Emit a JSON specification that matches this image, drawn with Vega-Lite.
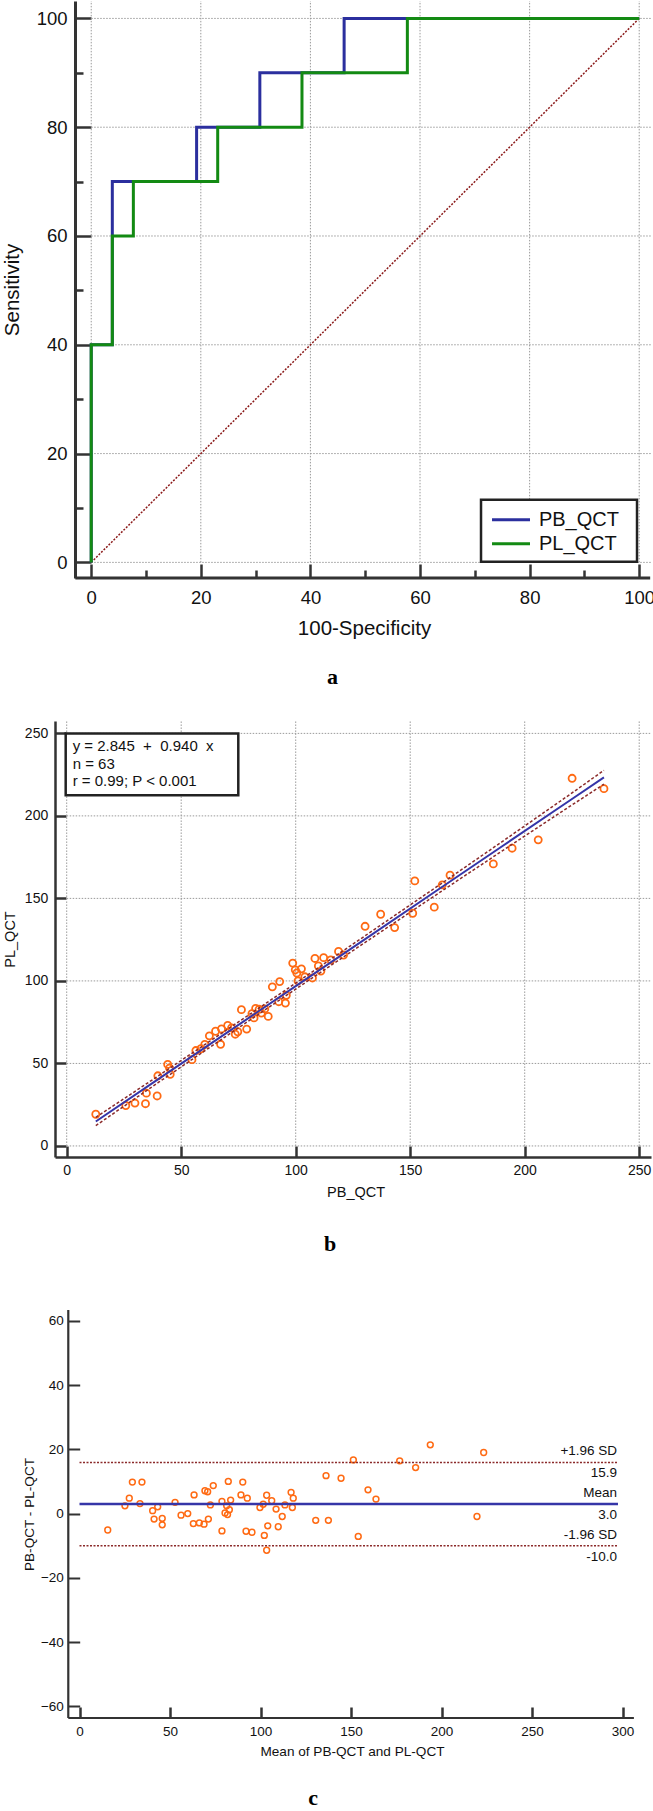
{
  "$schema": "https://vega.github.io/schema/vega-lite/v6.json",
  "padding": {"left": 2, "top": 0, "right": 0, "bottom": 0},
  "background": "white",
  "spacing": 143,
  "bounds": "flush",
  "config": {
    "view": {"stroke": null},
    "font": "Liberation Sans",
    "axis": {"grid": false, "labelFont": "Liberation Sans", "titleFont": "Liberation Sans", "labelColor": "#111", "titleColor": "#111", "titleFontWeight": "normal", "labelFlush": false, "labelOverlap": false}
  },
  "datasets": {
    "gridA": [{"v": 0}, {"v": 20}, {"v": 40}, {"v": 60}, {"v": 80}, {"v": 100}],
    "gridB": [{"v": 0}, {"v": 50}, {"v": 100}, {"v": 150}, {"v": 200}, {"v": 250}],
    "roc": [
      {"series": "PB_QCT", "ord": 1, "fpr": 0, "sens": 0},
      {"series": "PB_QCT", "ord": 2, "fpr": 0, "sens": 40},
      {"series": "PB_QCT", "ord": 3, "fpr": 3.85, "sens": 40},
      {"series": "PB_QCT", "ord": 4, "fpr": 3.85, "sens": 70},
      {"series": "PB_QCT", "ord": 5, "fpr": 19.23, "sens": 70},
      {"series": "PB_QCT", "ord": 6, "fpr": 19.23, "sens": 80},
      {"series": "PB_QCT", "ord": 7, "fpr": 30.77, "sens": 80},
      {"series": "PB_QCT", "ord": 8, "fpr": 30.77, "sens": 90},
      {"series": "PB_QCT", "ord": 9, "fpr": 46.15, "sens": 90},
      {"series": "PB_QCT", "ord": 10, "fpr": 46.15, "sens": 100},
      {"series": "PB_QCT", "ord": 11, "fpr": 100, "sens": 100},
      {"series": "PL_QCT", "ord": 1, "fpr": 0, "sens": 0},
      {"series": "PL_QCT", "ord": 2, "fpr": 0, "sens": 40},
      {"series": "PL_QCT", "ord": 3, "fpr": 3.85, "sens": 40},
      {"series": "PL_QCT", "ord": 4, "fpr": 3.85, "sens": 60},
      {"series": "PL_QCT", "ord": 5, "fpr": 7.69, "sens": 60},
      {"series": "PL_QCT", "ord": 6, "fpr": 7.69, "sens": 70},
      {"series": "PL_QCT", "ord": 7, "fpr": 23.08, "sens": 70},
      {"series": "PL_QCT", "ord": 8, "fpr": 23.08, "sens": 80},
      {"series": "PL_QCT", "ord": 9, "fpr": 38.46, "sens": 80},
      {"series": "PL_QCT", "ord": 10, "fpr": 38.46, "sens": 90},
      {"series": "PL_QCT", "ord": 11, "fpr": 57.69, "sens": 90},
      {"series": "PL_QCT", "ord": 12, "fpr": 57.69, "sens": 100},
      {"series": "PL_QCT", "ord": 13, "fpr": 100, "sens": 100}
    ],
    "scatter": [
      {"pb": 12.7, "pl": 19.2}, {"pb": 25.8, "pl": 24.5}, {"pb": 29.8, "pl": 26.0}, {"pb": 34.4, "pl": 25.6},
      {"pb": 34.8, "pl": 32.0}, {"pb": 39.5, "pl": 30.3}, {"pb": 39.8, "pl": 42.5}, {"pb": 44.1, "pl": 49.4},
      {"pb": 44.9, "pl": 47.2}, {"pb": 45.2, "pl": 43.4}, {"pb": 54.7, "pl": 52.3}, {"pb": 56.4, "pl": 57.8},
      {"pb": 58.6, "pl": 58.9}, {"pb": 60.3, "pl": 61.5}, {"pb": 62.3, "pl": 66.7}, {"pb": 65.0, "pl": 69.5},
      {"pb": 67.2, "pl": 61.6}, {"pb": 67.6, "pl": 70.9}, {"pb": 70.3, "pl": 73.0}, {"pb": 72.0, "pl": 71.5},
      {"pb": 73.6, "pl": 67.7}, {"pb": 74.7, "pl": 69.2}, {"pb": 76.3, "pl": 82.6}, {"pb": 78.6, "pl": 70.8},
      {"pb": 80.9, "pl": 80.1}, {"pb": 81.8, "pl": 77.6}, {"pb": 82.5, "pl": 83.3}, {"pb": 84.0, "pl": 82.8},
      {"pb": 85.0, "pl": 80.5}, {"pb": 86.5, "pl": 83.0}, {"pb": 88.0, "pl": 78.5}, {"pb": 89.8, "pl": 96.4},
      {"pb": 92.6, "pl": 87.4}, {"pb": 93.0, "pl": 99.6}, {"pb": 95.5, "pl": 86.6}, {"pb": 95.9, "pl": 91.3},
      {"pb": 98.7, "pl": 110.8}, {"pb": 99.8, "pl": 106.7}, {"pb": 100.5, "pl": 104.8}, {"pb": 101.0, "pl": 100.0},
      {"pb": 102.5, "pl": 107.3}, {"pb": 104.0, "pl": 102.5}, {"pb": 107.3, "pl": 101.8}, {"pb": 108.4, "pl": 113.6},
      {"pb": 109.9, "pl": 109.1}, {"pb": 111.0, "pl": 106.0}, {"pb": 112.2, "pl": 114.1}, {"pb": 115.3, "pl": 112.7},
      {"pb": 118.7, "pl": 117.9}, {"pb": 120.9, "pl": 115.7}, {"pb": 130.3, "pl": 133.1}, {"pb": 137.1, "pl": 140.4},
      {"pb": 143.2, "pl": 132.3}, {"pb": 151.1, "pl": 141.0}, {"pb": 152.0, "pl": 160.6}, {"pb": 160.5, "pl": 144.7},
      {"pb": 164.0, "pl": 158.2}, {"pb": 167.4, "pl": 164.1}, {"pb": 186.3, "pl": 170.9}, {"pb": 194.5, "pl": 180.4},
      {"pb": 205.9, "pl": 185.5}, {"pb": 220.7, "pl": 222.8}, {"pb": 234.6, "pl": 216.5}
    ],
    "fit": [
      {"pb": 12.7, "fit": 14.8, "lo": 12.3, "hi": 17.3},
      {"pb": 40, "fit": 40.45, "lo": 38.45, "hi": 42.45},
      {"pb": 70, "fit": 68.65, "lo": 66.85, "hi": 70.45},
      {"pb": 100, "fit": 96.85, "lo": 95.05, "hi": 98.65},
      {"pb": 130, "fit": 125.05, "lo": 123.05, "hi": 127.05},
      {"pb": 160, "fit": 153.25, "lo": 150.95, "hi": 155.55},
      {"pb": 190, "fit": 181.45, "lo": 178.65, "hi": 184.25},
      {"pb": 220, "fit": 209.65, "lo": 206.05, "hi": 213.25},
      {"pb": 234.6, "fit": 223.37, "lo": 219.2, "hi": 227.6}
    ],
    "ba": [
      {"mean": 15.6, "diff": -5.1}, {"mean": 25.1, "diff": 2.4}, {"mean": 27.5, "diff": 4.8}, {"mean": 29.2, "diff": 9.8},
      {"mean": 33.4, "diff": 3.1}, {"mean": 34.5, "diff": 9.8}, {"mean": 40.4, "diff": 0.9}, {"mean": 41.2, "diff": -1.7},
      {"mean": 43.2, "diff": 2.1}, {"mean": 45.7, "diff": -1.5}, {"mean": 45.7, "diff": -3.5}, {"mean": 52.8, "diff": 3.5},
      {"mean": 56.1, "diff": -0.5}, {"mean": 59.8, "diff": 0.0}, {"mean": 63.3, "diff": 5.8}, {"mean": 62.9, "diff": -3.1},
      {"mean": 66.2, "diff": -2.9}, {"mean": 68.8, "diff": -3.3}, {"mean": 69.3, "diff": 7.1}, {"mean": 70.8, "diff": 6.8},
      {"mean": 71.2, "diff": -1.7}, {"mean": 72.3, "diff": 2.7}, {"mean": 73.9, "diff": 8.7}, {"mean": 78.7, "diff": -5.4},
      {"mean": 78.7, "diff": 3.8}, {"mean": 80.4, "diff": 0.2}, {"mean": 81.3, "diff": 2.4}, {"mean": 82.2, "diff": 10.0},
      {"mean": 82.8, "diff": 1.2}, {"mean": 83.5, "diff": 4.2}, {"mean": 81.8, "diff": -0.3}, {"mean": 89.2, "diff": 5.8},
      {"mean": 90.2, "diff": 9.8}, {"mean": 92.0, "diff": -5.5}, {"mean": 92.7, "diff": 4.8}, {"mean": 95.3, "diff": -5.8},
      {"mean": 99.7, "diff": 1.9}, {"mean": 101.5, "diff": 2.9}, {"mean": 102.1, "diff": -6.8}, {"mean": 103.4, "diff": 5.7},
      {"mean": 104.0, "diff": -3.8}, {"mean": 103.4, "diff": -11.4}, {"mean": 106.2, "diff": 4.0}, {"mean": 108.6, "diff": 1.4},
      {"mean": 109.8, "diff": -4.1}, {"mean": 112.0, "diff": -0.9}, {"mean": 113.5, "diff": 2.7}, {"mean": 116.9, "diff": 6.6},
      {"mean": 117.6, "diff": 1.9}, {"mean": 118.1, "diff": 4.8}, {"mean": 130.5, "diff": -2.1}, {"mean": 136.2, "diff": 11.8},
      {"mean": 137.5, "diff": -2.1}, {"mean": 144.5, "diff": 11.0}, {"mean": 151.3, "diff": 16.7}, {"mean": 154.0, "diff": -7.1},
      {"mean": 159.4, "diff": 7.4}, {"mean": 163.8, "diff": 4.5}, {"mean": 176.9, "diff": 16.4}, {"mean": 185.7, "diff": 14.3},
      {"mean": 193.8, "diff": 21.4}, {"mean": 219.6, "diff": -0.9}, {"mean": 223.3, "diff": 19.0}
    ],
    "baLines": [
      {"kind": "upper", "value": 15.9, "label": "+1.96 SD", "valtext": "15.9"},
      {"kind": "mean", "value": 3.0, "label": "Mean", "valtext": "3.0"},
      {"kind": "lower", "value": -10.0, "label": "-1.96 SD", "valtext": "-10.0"}
    ]
  },
  "vconcat": [
    {
      "width": 596,
      "height": 577,
      "title": {"text": "a", "orient": "bottom", "anchor": "middle", "frame": "group", "dx": -20.5, "offset": 28, "font": "Liberation Serif", "fontSize": 22, "fontWeight": "bold", "color": "#000"},
      "layer": [
        {
          "data": {"name": "gridA"},
          "mark": {"type": "rule", "color": "#9a9a9a", "strokeWidth": 1, "strokeDash": [1.5, 1.5]},
          "encoding": {
            "x": {
              "field": "v", "type": "quantitative",
              "scale": {"domain": [-6.61, 102.15], "nice": false, "zero": false},
              "axis": {
                "values": [0, 5, 10, 15, 20, 25, 30, 35, 40, 45, 50, 55, 60, 65, 70, 75, 80, 85, 90, 95, 100],
                "labelExpr": "datum.value % 20 === 0 ? datum.label : ''",
                "tickSize": {"condition": {"test": "datum.value % 20 === 0", "value": -14}, "value": -8},
                "tickWidth": 2.5, "tickColor": "#333", "domain": false,
                "labelFontSize": 18.5, "labelPadding": 24.5,
                "title": "100-Specificity", "titleFontSize": 20.5, "titleX": 309, "titleY": 50, "titleBaseline": "middle", "titleAlign": "center"
              }
            },
            "y": {
              "datum": 0, "type": "quantitative",
              "scale": {"domain": [-2.87, 103.2], "nice": false, "zero": false},
              "axis": {
                "values": [0, 5, 10, 15, 20, 25, 30, 35, 40, 45, 50, 55, 60, 65, 70, 75, 80, 85, 90, 95, 100],
                "labelExpr": "datum.value % 20 === 0 ? datum.label : ''",
                "tickSize": {"condition": {"test": "datum.value % 20 === 0", "value": -16}, "value": -8},
                "tickWidth": 2.5, "tickColor": "#333", "domain": true, "domainColor": "#333", "domainWidth": 3,
                "offset": -20, "labelFontSize": 18.5, "labelPadding": 24,
                "title": "Sensitivity", "titleFontSize": 20.5, "titleX": -73, "titleBaseline": "top", "titleAlign": "center"
              }
            },
            "y2": {"datum": 103.2}
          }
        },
        {
          "data": {"name": "gridA"},
          "mark": {"type": "rule", "color": "#9a9a9a", "strokeWidth": 1, "strokeDash": [1.5, 1.5]},
          "encoding": {
            "y": {"field": "v", "type": "quantitative"},
            "x": {"datum": 0, "type": "quantitative"},
            "x2": {"datum": 102.15}
          }
        },
        {
          "data": {"values": [{}]},
          "mark": {"type": "rule", "color": "#8b1a1a", "strokeWidth": 1.5, "strokeDash": [2, 1.5]},
          "encoding": {
            "x": {"datum": 0, "type": "quantitative"},
            "y": {"datum": 0, "type": "quantitative"},
            "x2": {"datum": 100},
            "y2": {"datum": 100}
          }
        },
        {
          "data": {"name": "roc"},
          "transform": [{"filter": "datum.series === 'PB_QCT'"}],
          "mark": {"type": "line", "color": "#2b2f9e", "strokeWidth": 3},
          "encoding": {
            "x": {"field": "fpr", "type": "quantitative"},
            "y": {"field": "sens", "type": "quantitative"},
            "order": {"field": "ord", "type": "quantitative"}
          }
        },
        {
          "data": {"name": "roc"},
          "transform": [{"filter": "datum.series === 'PL_QCT'"}],
          "mark": {"type": "line", "color": "#138a13", "strokeWidth": 3},
          "encoding": {
            "x": {"field": "fpr", "type": "quantitative"},
            "y": {"field": "sens", "type": "quantitative"},
            "order": {"field": "ord", "type": "quantitative"}
          }
        },
        {
          "data": {"values": [{}]},
          "mark": {"type": "rule", "color": "#333", "strokeWidth": 3},
          "encoding": {
            "x": {"datum": -2.9, "type": "quantitative"},
            "x2": {"datum": 102.0},
            "y": {"datum": -2.87, "type": "quantitative"}
          }
        },
        {
          "data": {"values": [{}]},
          "mark": {"type": "rect", "fill": "white", "stroke": "#222", "strokeWidth": 2.5},
          "encoding": {
            "x": {"datum": 71.13, "type": "quantitative"},
            "x2": {"datum": 99.6},
            "y": {"datum": 11.5, "type": "quantitative"},
            "y2": {"datum": 0.13}
          }
        },
        {
          "data": {"values": [{}]},
          "mark": {"type": "rule", "color": "#2b2f9e", "strokeWidth": 3},
          "encoding": {
            "x": {"datum": 73.14, "type": "quantitative"},
            "x2": {"datum": 80.07},
            "y": {"datum": 7.85, "type": "quantitative"}
          }
        },
        {
          "data": {"values": [{}]},
          "mark": {"type": "rule", "color": "#138a13", "strokeWidth": 3},
          "encoding": {
            "x": {"datum": 73.14, "type": "quantitative"},
            "x2": {"datum": 80.07},
            "y": {"datum": 3.44, "type": "quantitative"}
          }
        },
        {
          "data": {"values": [{}]},
          "mark": {"type": "text", "align": "left", "baseline": "middle", "fontSize": 20, "color": "#111", "font": "Liberation Sans"},
          "encoding": {
            "x": {"datum": 81.7, "type": "quantitative"},
            "y": {"datum": 7.85, "type": "quantitative"},
            "text": {"value": "PB_QCT"}
          }
        },
        {
          "data": {"values": [{}]},
          "mark": {"type": "text", "align": "left", "baseline": "middle", "fontSize": 20, "color": "#111", "font": "Liberation Sans"},
          "encoding": {
            "x": {"datum": 81.7, "type": "quantitative"},
            "y": {"datum": 3.44, "type": "quantitative"},
            "text": {"value": "PL_QCT"}
          }
        }
      ]
    },
    {
      "width": 596,
      "height": 436,
      "title": {"text": "b", "orient": "bottom", "anchor": "middle", "frame": "group", "dx": -23, "offset": 35, "font": "Liberation Serif", "fontSize": 22, "fontWeight": "bold", "color": "#000"},
      "layer": [
        {
          "data": {"name": "gridB"},
          "mark": {"type": "rule", "color": "#9a9a9a", "strokeWidth": 1, "strokeDash": [1.5, 1.5]},
          "encoding": {
            "x": {
              "field": "v", "type": "quantitative",
              "scale": {"domain": [-5.11, 255.15], "nice": false, "zero": false},
              "axis": {
                "values": [0, 50, 100, 150, 200, 250],
                "tickSize": -11, "tickWidth": 2.5, "tickColor": "#333", "domainColor": "#333", "domainWidth": 2.5,
                "labelFontSize": 14, "labelPadding": 17.8,
                "title": "PB_QCT", "titleFontSize": 14.5, "titleX": 300.6, "titleY": 35, "titleBaseline": "middle", "titleAlign": "center"
              }
            },
            "y": {
              "datum": 0, "type": "quantitative",
              "scale": {"domain": [-6.7, 257.5], "nice": false, "zero": false},
              "axis": {
                "values": [0, 50, 100, 150, 200, 250],
                "tickSize": -11, "tickWidth": 2.5, "tickColor": "#333", "domainColor": "#333", "domainWidth": 2.5,
                "labelFontSize": 14, "labelPadding": 18.3,
                "title": "PL_QCT", "titleFontSize": 14.5, "titleX": -52, "titleBaseline": "top", "titleAlign": "center"
              }
            },
            "y2": {"datum": 257.5}
          }
        },
        {
          "data": {"name": "gridB"},
          "mark": {"type": "rule", "color": "#9a9a9a", "strokeWidth": 1, "strokeDash": [1.5, 1.5]},
          "encoding": {
            "y": {"field": "v", "type": "quantitative"},
            "x": {"datum": 0, "type": "quantitative"},
            "x2": {"datum": 255.1}
          }
        },
        {
          "data": {"values": [{}]},
          "mark": {"type": "rect", "fill": "white", "stroke": "#222", "strokeWidth": 2.5},
          "encoding": {
            "x": {"datum": -0.44, "type": "quantitative"},
            "x2": {"datum": 74.93},
            "y": {"datum": 250.0, "type": "quantitative"},
            "y2": {"datum": 212.5}
          }
        },
        {
          "data": {"values": [{}]},
          "mark": {"type": "text", "align": "left", "baseline": "top", "fontSize": 15, "lineHeight": 17.5, "color": "#111", "font": "Liberation Sans"},
          "encoding": {
            "x": {"datum": 2.6, "type": "quantitative"},
            "y": {"datum": 246.4, "type": "quantitative"},
            "text": {"value": ["y = 2.845\u00a0 +\u00a0 0.940\u00a0 x", "n = 63", "r = 0.99; P < 0.001"]}
          }
        },
        {
          "data": {"name": "scatter"},
          "mark": {"type": "point", "shape": "circle", "filled": false, "stroke": "#ff6a13", "strokeWidth": 1.8, "size": 50, "opacity": 1},
          "encoding": {
            "x": {"field": "pb", "type": "quantitative"},
            "y": {"field": "pl", "type": "quantitative"}
          }
        },
        {
          "data": {"name": "fit"},
          "mark": {"type": "line", "color": "#8b2a2a", "strokeWidth": 1.5, "strokeDash": [3, 2]},
          "encoding": {
            "x": {"field": "pb", "type": "quantitative"},
            "y": {"field": "hi", "type": "quantitative"}
          }
        },
        {
          "data": {"name": "fit"},
          "mark": {"type": "line", "color": "#8b2a2a", "strokeWidth": 1.5, "strokeDash": [3, 2]},
          "encoding": {
            "x": {"field": "pb", "type": "quantitative"},
            "y": {"field": "lo", "type": "quantitative"}
          }
        },
        {
          "data": {"name": "fit"},
          "mark": {"type": "line", "color": "#3535a8", "strokeWidth": 2},
          "encoding": {
            "x": {"field": "pb", "type": "quantitative"},
            "y": {"field": "fit", "type": "quantitative"}
          }
        }
      ]
    },
    {
      "width": 579,
      "height": 418,
      "title": {"text": "c", "orient": "bottom", "anchor": "middle", "frame": "group", "dx": -31.5, "offset": 52, "baseline": "bottom", "font": "Liberation Serif", "fontSize": 22, "fontWeight": "bold", "color": "#000"},
      "layer": [
        {
          "data": {"name": "ba"},
          "mark": {"type": "point", "shape": "circle", "filled": false, "stroke": "#ff6a13", "strokeWidth": 1.5, "size": 34, "opacity": 1},
          "encoding": {
            "x": {
              "field": "mean", "type": "quantitative",
              "scale": {"domain": [-13.54, 306.35], "nice": false, "zero": false},
              "axis": {
                "values": [0, 50, 100, 150, 200, 250, 300],
                "tickSize": -11, "tickWidth": 2.5, "tickColor": "#333", "domain": false,
                "labelFontSize": 13.5, "labelPadding": 17,
                "title": "Mean of PB-QCT and PL-QCT", "titleFontSize": 13.6, "titleX": 297, "titleY": 33.7, "titleBaseline": "middle", "titleAlign": "center"
              }
            },
            "y": {
              "field": "diff", "type": "quantitative",
              "scale": {"domain": [-63.6, 66.45], "nice": false, "zero": false},
              "axis": {
                "values": [-60, -50, -40, -30, -20, -10, 0, 10, 20, 30, 40, 50, 60],
                "labelExpr": "datum.value % 20 === 0 ? datum.label : ''",
                "tickSize": {"condition": {"test": "datum.value % 20 === 0", "value": -11.7}, "value": -6.7},
                "tickWidth": 2, "tickColor": "#333", "domain": false, "offset": -13,
                "labelFontSize": 13.5, "labelPadding": 16.4,
                "title": "PB-QCT - PL-QCT", "titleFontSize": 13.6, "titleX": -46, "titleY": 214, "titleBaseline": "top", "titleAlign": "center"
              }
            }
          }
        },
        {
          "data": {"name": "baLines"},
          "transform": [{"filter": "datum.kind !== 'mean'"}],
          "mark": {"type": "rule", "color": "#8b2a2a", "strokeWidth": 1.5, "strokeDash": [2, 1.5]},
          "encoding": {
            "y": {"field": "value", "type": "quantitative"},
            "x": {"datum": 0, "type": "quantitative"},
            "x2": {"datum": 297.5}
          }
        },
        {
          "data": {"name": "baLines"},
          "transform": [{"filter": "datum.kind === 'mean'"}],
          "mark": {"type": "rule", "color": "#3535a8", "strokeWidth": 2.5},
          "encoding": {
            "y": {"field": "value", "type": "quantitative"},
            "x": {"datum": 0, "type": "quantitative"},
            "x2": {"datum": 297.5}
          }
        },
        {
          "data": {"name": "baLines"},
          "mark": {"type": "text", "align": "right", "baseline": "middle", "dy": -11, "fontSize": 13.5, "color": "#111", "font": "Liberation Sans"},
          "encoding": {
            "y": {"field": "value", "type": "quantitative"},
            "x": {"datum": 297, "type": "quantitative"},
            "text": {"field": "label"}
          }
        },
        {
          "data": {"name": "baLines"},
          "mark": {"type": "text", "align": "right", "baseline": "middle", "dy": 11, "fontSize": 13.5, "color": "#111", "font": "Liberation Sans"},
          "encoding": {
            "y": {"field": "value", "type": "quantitative"},
            "x": {"datum": 297, "type": "quantitative"},
            "text": {"field": "valtext"}
          }
        },
        {
          "data": {"values": [{}]},
          "mark": {"type": "rule", "color": "#333", "strokeWidth": 2.2},
          "encoding": {
            "x": {"datum": -6.2, "type": "quantitative"},
            "x2": {"datum": 306.3},
            "y": {"datum": -63.6, "type": "quantitative"}
          }
        },
        {
          "data": {"values": [{}]},
          "mark": {"type": "rule", "color": "#333", "strokeWidth": 2.2},
          "encoding": {
            "x": {"datum": -6.2, "type": "quantitative"},
            "y": {"datum": -63.6, "type": "quantitative"},
            "y2": {"datum": 63.3}
          }
        }
      ]
    }
  ]
}
